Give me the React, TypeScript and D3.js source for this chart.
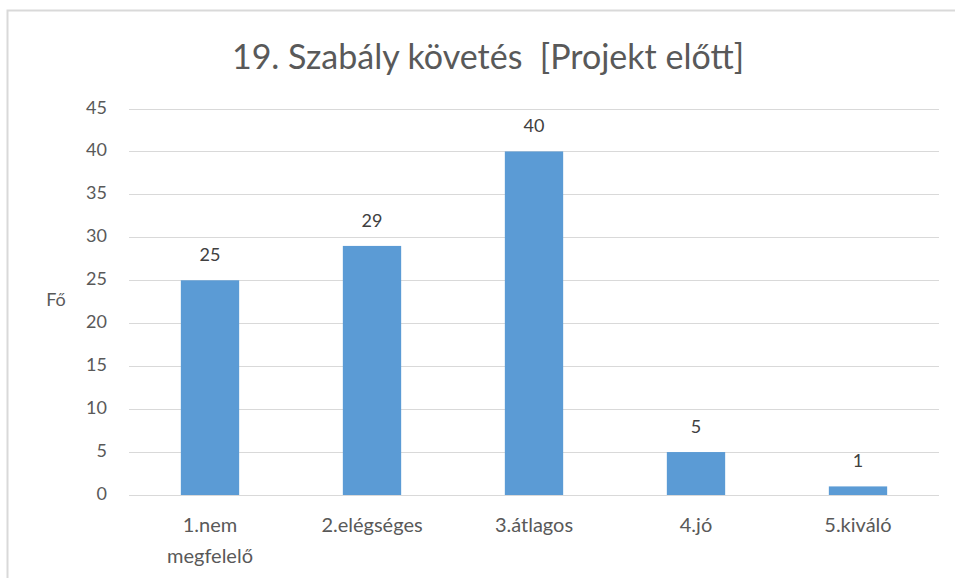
import React from "react";
import * as d3 from "d3";

const categories: string[][] = [
  ["1.nem", "megfelelő"],
  ["2.elégséges"],
  ["3.átlagos"],
  ["4.jó"],
  ["5.kiváló"],
];
const values: number[] = [25, 29, 40, 5, 1];
const yTicks: number[] = [0, 5, 10, 15, 20, 25, 30, 35, 40, 45];
const title = "19. Szabály követés  [Projekt előtt]";
const yLabel = "Fő";

const W = 955;
const H = 578;
const plot = { left: 129, right: 939, top: 108.5, bottom: 495 };
const FONT = "Lato, 'Open Sans', sans-serif";

export default function App() {
  const keys = categories.map((c) => c.join(" "));
  const x = d3
    .scaleBand<string>()
    .domain(keys)
    .range([plot.left, plot.right])
    .paddingInner(0.64)
    .paddingOuter(0.32);
  const y = d3.scaleLinear().domain([0, 45]).range([plot.bottom, plot.top]);

  return (
    <svg
      width={W}
      height={H}
      style={{ position: "absolute", left: 0, top: 0, background: "#fff" }}
      fontFamily={FONT}
    >
      <rect x={0} y={0} width={W} height={H} fill="#fff" />
      {/* chart frame */}
      <path d={`M7.5,${H} V10.5 H${W}`} fill="none" stroke="#d9d9d9" strokeWidth={2} />

      <text
        x={488}
        y={69}
        textAnchor="middle"
        fontSize={34}
        fill="#595959"
        style={{ whiteSpace: "pre" }}
      >
        {title}
      </text>

      {/* gridlines and y tick labels */}
      {yTicks.map((t) => (
        <g key={t}>
          <line
            x1={plot.left}
            x2={plot.right}
            y1={Math.round(y(t)) + 0.5}
            y2={Math.round(y(t)) + 0.5}
            stroke="#d9d9d9"
            strokeWidth={1}
          />
          <text x={107} y={y(t) + 5} textAnchor="end" fontSize={18} fill="#595959">
            {t}
          </text>
        </g>
      ))}

      <text x={56} y={306} textAnchor="middle" fontSize={18} fill="#595959">
        {yLabel}
      </text>

      {/* bars with value labels */}
      {values.map((v, i) => {
        const k = keys[i];
        const bx = x(k) as number;
        const cx = bx + x.bandwidth() / 2;
        return (
          <g key={k}>
            <rect
              x={bx}
              y={y(v)}
              width={x.bandwidth()}
              height={y(0) - y(v)}
              fill="#5b9bd5"
            />
            <text x={cx} y={y(v) - 19} textAnchor="middle" fontSize={18} fill="#404040">
              {v}
            </text>
          </g>
        );
      })}

      {/* category labels */}
      {categories.map((lines, i) => {
        const cx = (x(keys[i]) as number) + x.bandwidth() / 2;
        return (
          <text key={keys[i]} x={cx} y={532} textAnchor="middle" fontSize={20} fill="#595959">
            {lines.map((ln, j) => (
              <tspan key={j} x={cx} dy={j === 0 ? 0 : 31}>
                {ln}
              </tspan>
            ))}
          </text>
        );
      })}
    </svg>
  );
}
